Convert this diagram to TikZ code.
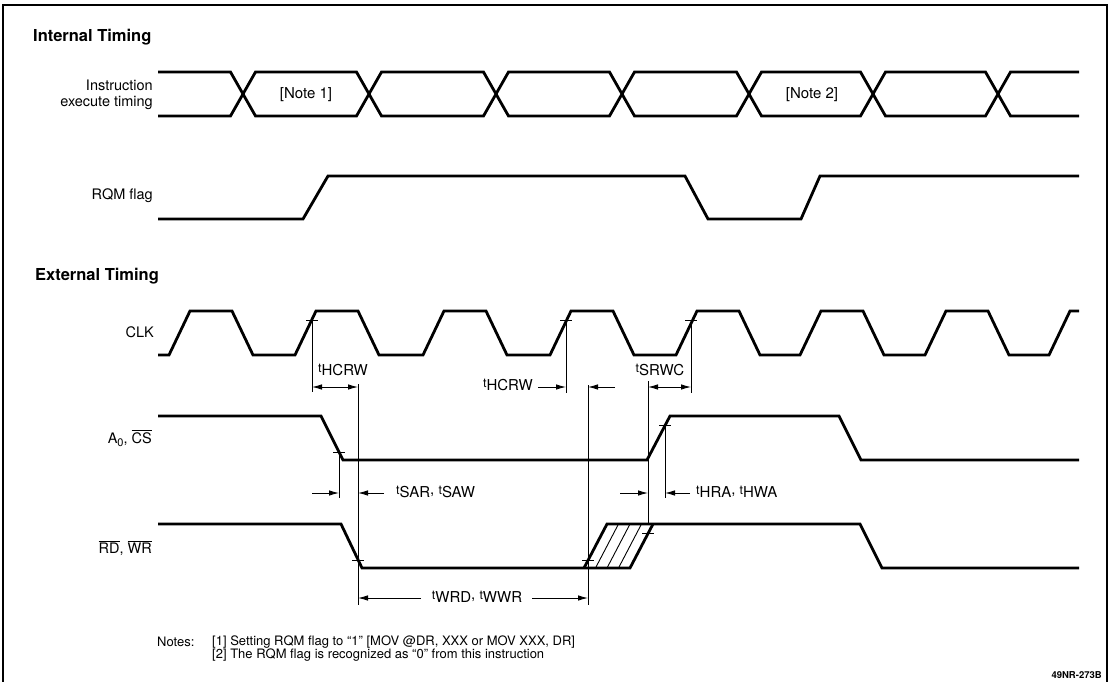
\documentclass[tikz,border=0pt]{standalone}
\usepackage{amsmath}
\usepackage{fontspec}
\setmainfont{TeX Gyre Heros}
\usetikzlibrary{arrows.meta}

% timing symbol: small t with lowered name
\newcommand\tm[1]{{\fontsize{12.5}{12}\selectfont t}\raisebox{-3.5pt}{#1}}
\newcommand\sub[1]{\raisebox{-2.5pt}{\fontsize{11}{11}\selectfont #1}}

\tikzset{
  sig/.style={line width=2.8pt, line join=miter},
  guide/.style={line width=0.9pt},
  tick/.style={line width=0.9pt},
  dim/.style={line width=0.9pt, -{Latex[length=10pt,width=5.5pt]}},
  dimboth/.style={line width=0.9pt, {Latex[length=10pt,width=5.5pt]}-{Latex[length=10pt,width=5.5pt]}},
  lbl/.style={anchor=east, align=right, inner sep=0pt, font=\fontsize{14.5}{16}\selectfont},
  head/.style={anchor=west, inner sep=0pt, font=\bfseries\fontsize{16.5}{18}\selectfont},
  tlbl/.style={inner sep=0pt, font=\fontsize{15}{16}\selectfont},
  note/.style={anchor=west, inner sep=0pt, font=\fontsize{13}{14}\selectfont},
}

\def\buslist{243/72/116, 369/116/72, 496/72/116, 622/116/72, 749/72/116, 873/116/72, 998/72/116}

\begin{document}
\begin{tikzpicture}[x=1pt,y=-1pt]
  \useasboundingbox (0,0) rectangle (1109,682);
  % frame
  \draw[line width=1.2pt] (3,682) -- (3,5) -- (1107,5) -- (1107,682);

  % headings and signal names
  \node[head] (int) at (33,37)  {Internal Timing};
  \node[head] (ext) at (35,276) {External Timing};
  \node[lbl] (ins) at (153,95)  {Instruction\\execute timing};
  \node[lbl] (rqm) at (153,196) {RQM flag};
  \node[lbl] (clk) at (154,332) {CLK};
  \node[lbl] (acs) at (152,438) {A\sub{0}, $\overline{\text{CS}}$};
  \node[lbl] (rdw) at (152,548) {$\overline{\text{RD}}$, $\overline{\text{WR}}$};

  % instruction bus
  \draw[sig] (158,72) \foreach \xc/\ya/\yb in \buslist {
    -- (\xc-12.5,\ya) -- (\xc+12.5,\yb) } -- (1079,116);
  \draw[sig] (158,116) \foreach \xc/\ya/\yb in \buslist {
    -- (\xc-12.5,\yb) -- (\xc+12.5,\ya) } -- (1079,72);
  \node[tlbl] (n1) at (306,95) {[Note 1]};
  \node[tlbl] (n2) at (812,95) {[Note 2]};

  % RQM flag
  \draw[sig] (158,219) -- (303,219) -- (328,176) -- (685,176) -- (708,219)
    -- (801,219) -- (820,176) -- (1079,176);

  % clock
  \draw[sig] (158,355) \foreach \h in {190,316,444,571,697,821,946} {
    -- (\h-21,355) -- (\h,311) -- (\h+42,311) -- (\h+63,355) }
    -- (1049,355) -- (1070,311) -- (1079,311);

  % address / chip select
  \draw[sig] (158,416) -- (321,416) -- (343,460) -- (647,460) -- (670,416)
    -- (839,416) -- (861,460) -- (1079,460);

  % read / write strobe
  \draw[sig] (158,524) -- (341,524) -- (362,568) -- (630,568) -- (653,524);
  \draw[sig] (584,568) -- (607,524) -- (860,524) -- (882,568) -- (1079,568);
  \foreach \d in {11.5,23,34.5}
    \draw[guide] (584+\d,568) -- (607+\d,524);

  % reference points on the edges
  \foreach \n/\x/\y in {ck1/312/320, ck3/566/320, ck4/691/320, as1/339/452,
      as2/665/425, rw1/358/560, rw2/588/560, rw3/648/533} {
    \coordinate (\n) at (\x,\y);
    \draw[tick] (\x-6,\y) -- (\x+6,\y);
  }
  \coordinate (rowA) at (0,387);
  \coordinate (rowB) at (0,493);
  \coordinate (rowC) at (0,598);

  % guide lines
  \draw[guide] (ck1) -- ++(0,72);
  \draw[guide] (ck3) -- ++(0,73);
  \draw[guide] (ck4) -- ++(0,73);
  \draw[guide] (as1) -- ++(0,46);
  \draw[guide] (as2) -- ++(0,73);
  \draw[guide] (358,384) -- (358,605);
  \draw[guide] (588,385) -- (588,605);
  \draw[guide] (648,381) -- (648,524);

  % free ends of the arrows
  \path (538,387) coordinate (hcrwL) (615,387) coordinate (hcrwR)
        (312,493) coordinate (sarL)  (384,493) coordinate (sarR)
        (620,493) coordinate (hraL)  (690,493) coordinate (hraR)
        (421,598) coordinate (wrdL)  (532,598) coordinate (wrdR);

  % top arrows
  \draw[dimboth] (ck1 |- rowA) -- (rw1 |- rowA);
  \node[tlbl] (hcrw1) at (343,370) {\tm{HCRW}};
  \draw[dim] (hcrwL) -- (ck3 |- rowA);
  \draw[dim] (hcrwR) -- (rw2 |- rowA);
  \node[tlbl, anchor=east] (hcrw2) at (533,385) {\tm{HCRW}};
  \draw[dimboth] (rw3 |- rowA) -- (ck4 |- rowA);
  \node[tlbl] (srwc) at (660,370) {\tm{SRWC}};
  % middle arrows
  \draw[dim] (sarL) -- (as1 |- rowB);
  \draw[dim] (sarR) -- (rw1 |- rowB);
  \node[tlbl, anchor=west] (sar) at (396,492) {\tm{SAR}, \tm{SAW}};
  \draw[dim] (hraL) -- (rw3 |- rowB);
  \draw[dim] (hraR) -- (as2 |- rowB);
  \node[tlbl, anchor=west] (hra) at (696,492) {\tm{HRA}, \tm{HWA}};
  % bottom arrow
  \draw[dim] (wrdL) -- (rw1 |- rowC);
  \draw[dim] (wrdR) -- (rw2 |- rowC);
  \node[tlbl] (wrd) at (477,597) {\tm{WRD}, \tm{WWR}};

  % notes
  \node[note] (nts) at (157,642) {Notes:};
  \node[note] (nt1) at (212,642) {[1] Setting RQM flag to “1” [MOV @DR, XXX or MOV XXX, DR]};
  \node[note] (nt2) at (212,655) {[2] The RQM flag is recognized as “0” from this instruction};
  \node[anchor=east, inner sep=0pt, font=\bfseries\fontsize{9.5}{10}\selectfont] (fig) at (1102,675) {49NR-273B};
\end{tikzpicture}
\end{document}
